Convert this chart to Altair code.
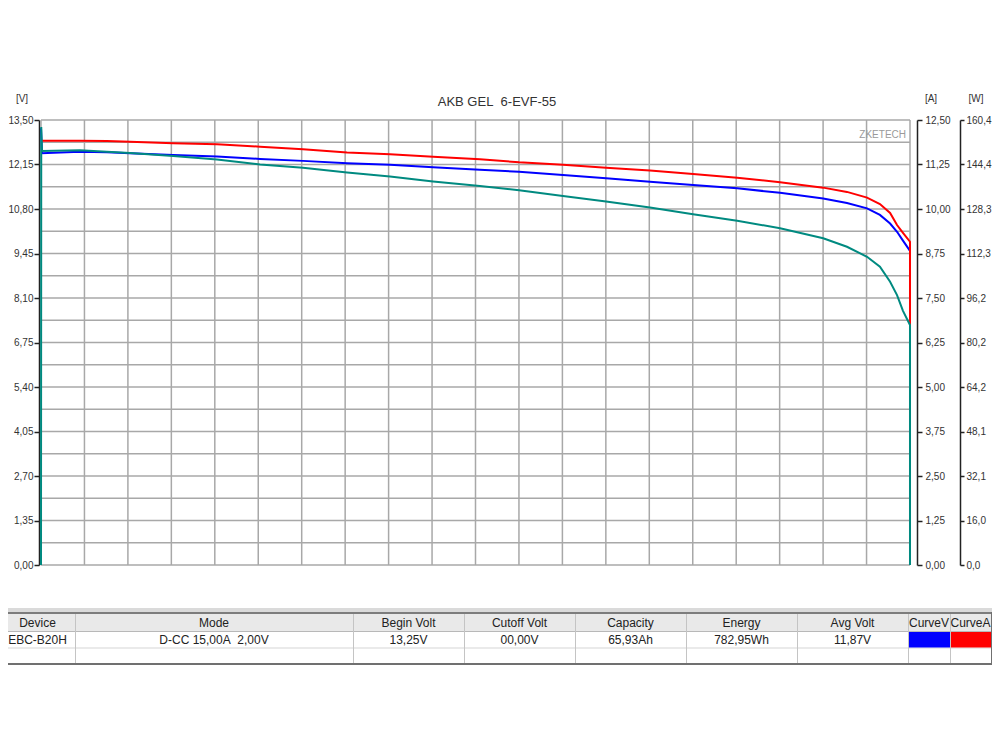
import altair as alt
import pandas as pd

# ---------------- data ----------------
TITLE = "AKB GEL\u00a0 6-EVF-55"
X_MAX = 350.633  # minutes (05:50:38)
XTICK_LABELS = ["00:00:00", "00:35:04", "01:10:08", "01:45:11", "02:20:15", "02:55:19",
                "03:30:23", "04:05:27", "04:40:30", "05:15:34", "05:50:38"]

# voltage (blue, V)
T_V = [0.0, 0.4, 15.7, 26.6, 35.9, 53.3, 71.0, 88.4, 105.7, 123.5, 140.8, 158.2, 177.1, 192.9,
       210.6, 228.0, 245.7, 263.1, 280.9, 298.2, 315.6, 325.2, 333.3, 338.5, 342.6, 345.4, 347.8, 350.63]
VOLT = [13.25, 12.49, 12.54, 12.52, 12.49, 12.44, 12.39, 12.32, 12.26, 12.19, 12.14, 12.07, 11.99, 11.93,
        11.83, 11.73, 11.63, 11.53, 11.43, 11.29, 11.12, 10.98, 10.82, 10.62, 10.36, 10.11, 9.84, 9.53]

# current (red, A)
T_A = [0.4, 15.7, 26.6, 35.9, 53.3, 71.0, 88.4, 105.7, 123.5, 140.8, 158.2, 177.1, 192.9,
       210.6, 228.0, 245.7, 263.1, 280.9, 298.2, 315.6, 325.2, 333.3, 338.5, 342.6, 345.4, 347.8, 350.63, 350.63]
AMP = [11.92, 11.92, 11.91, 11.89, 11.85, 11.82, 11.75, 11.68, 11.59, 11.54, 11.47, 11.40, 11.31,
       11.24, 11.16, 11.08, 10.98, 10.88, 10.75, 10.60, 10.48, 10.32, 10.14, 9.89, 9.55, 9.33, 9.08, 0.0]

# power (teal, W)
T_W = [0.0, 0.1, 0.4, 15.7, 26.6, 35.9, 53.3, 71.0, 88.4, 105.7, 123.5, 140.8, 158.2, 177.1, 192.9,
       210.6, 228.0, 245.7, 263.1, 280.9, 298.2, 315.6, 325.2, 333.3, 338.5, 342.6, 345.4, 347.8, 350.63, 350.63]
WATT = [0.0, 157.9, 149.2, 149.5, 149.0, 148.5, 147.4, 146.2, 144.4, 143.2, 141.5, 140.0, 138.2, 136.6, 135.1,
        133.0, 131.0, 128.9, 126.4, 124.1, 121.4, 117.8, 114.7, 111.1, 107.5, 102.1, 97.3, 91.6, 86.5, 0.0]

V_MAX, A_MAX, W_MAX = 13.5, 12.5, 160.4
TABLE_HEADERS = ["Device", "Mode", "Begin Volt", "Cutoff Volt", "Capacity", "Energy", "Avg Volt", "CurveV", "CurveA"]
TABLE_VALUES = ["EBC-B20H", "D-CC 15,00A\u00a0 2,00V", "13,25V", "00,00V", "65,93Ah", "782,95Wh", "11,87V", "", ""]
CURVE_COLORS = {"V": "#0000ff", "A": "#ff0000", "W": "#008a80"}

# ---------------- layout ----------------
W, H = 869, 445
PX0, PY0 = 41, 120  # page position of the plot origin
FONT = "Liberation Sans"
GRID_COLOR = "#a8a8a8"
AXIS_COLOR = "#222222"
LABEL_COLOR = "#333333"

v_ticks = [round(i * V_MAX / 10, 3) for i in range(11)]
a_ticks = [round(i * A_MAX / 10, 3) for i in range(11)]
w_ticks = [round(i * W_MAX / 10, 3) for i in range(11)]
x_ticks = [i * X_MAX / 10 for i in range(11)]
x_grid = [i * X_MAX / 20 for i in range(21)]
y_grid = [i * V_MAX / 20 for i in range(21)]

x_scale = alt.Scale(domain=[0, X_MAX], nice=False, zero=False)
lab_arr = "[" + ",".join("'%s'" % s for s in XTICK_LABELS) + "]"
x_label_expr = "%s[round(datum.value / %f)]" % (lab_arr, X_MAX / 10)


def comma_fmt(d):
    return "replace(format(datum.value, '.%df'), '.', ',')" % d


def axis(orient, values, digits, offset, tick=5, pad=3):
    return alt.Axis(orient=orient, values=values, labelExpr=comma_fmt(digits), title=None,
                    grid=False, offset=offset, tickSize=tick, tickWidth=1.5, tickColor=AXIS_COLOR,
                    domainColor=AXIS_COLOR, domainWidth=1.5, labelFont=FONT, labelFontSize=10,
                    labelColor=LABEL_COLOR, labelPadding=pad)


vgrid = alt.Chart(pd.DataFrame({"t": x_grid})).mark_rule(color=GRID_COLOR, strokeWidth=1.5).encode(
    x=alt.X("t:Q", scale=x_scale, axis=None))
hgrid = alt.Chart(pd.DataFrame({"g": y_grid})).mark_rule(color=GRID_COLOR, strokeWidth=1.5).encode(
    y=alt.Y("g:Q", scale=alt.Scale(domain=[0, V_MAX], nice=False), axis=None))

df_v = pd.DataFrame({"t": T_V, "v": VOLT, "i": range(len(T_V))})
df_a = pd.DataFrame({"t": T_A, "v": AMP, "i": range(len(T_A))})
df_w = pd.DataFrame({"t": T_W, "v": WATT, "i": range(len(T_W))})

x_axis = alt.Axis(values=x_ticks, labelExpr=x_label_expr, title=None, grid=False, offset=4,
                  tickSize=5, tickWidth=1.5, tickColor=AXIS_COLOR, domainColor=AXIS_COLOR,
                  domainWidth=1.5, labelFont=FONT, labelFontSize=10, labelColor=LABEL_COLOR,
                  labelPadding=7)

line_v = alt.Chart(df_v).mark_line(color=CURVE_COLORS["V"], strokeWidth=2).encode(
    x=alt.X("t:Q", scale=x_scale, axis=x_axis),
    y=alt.Y("v:Q", scale=alt.Scale(domain=[0, V_MAX], nice=False),
            axis=axis("left", v_ticks, 2, 2, tick=5, pad=1)),
    order="i:Q")
line_a = alt.Chart(df_a).mark_line(color=CURVE_COLORS["A"], strokeWidth=2).encode(
    x=alt.X("t:Q", scale=x_scale, axis=None),
    y=alt.Y("v:Q", scale=alt.Scale(domain=[0, A_MAX], nice=False),
            axis=axis("right", a_ticks, 2, 7)),
    order="i:Q")
line_w = alt.Chart(df_w).mark_line(color=CURVE_COLORS["W"], strokeWidth=2).encode(
    x=alt.X("t:Q", scale=x_scale, axis=None),
    y=alt.Y("v:Q", scale=alt.Scale(domain=[0, W_MAX], nice=False),
            axis=axis("right", w_ticks, 1, 50, tick=4, pad=2)),
    order="i:Q")

# ---------------- texts ----------------
texts = [
    (497, 102, TITLE, 13, "#333333"),
    (22, 99, "[V]", 10, LABEL_COLOR),
    (931, 99, "[A]", 10, LABEL_COLOR),
    (976, 99, "[W]", 10, LABEL_COLOR),
]
text_layers = []
for x, y, s, size, c in texts:
    text_layers.append(
        alt.Chart(pd.DataFrame({"s": [s]})).mark_text(
            font=FONT, fontSize=size, color=c, align="center", baseline="middle").encode(
            x=alt.value(x - PX0), y=alt.value(y - PY0), text="s:N"))

brand = alt.Chart(pd.DataFrame({"s": ["ZKETECH"]})).mark_text(
    font=FONT, fontSize=10, color="#9a9a9a", align="right", baseline="middle").encode(
    x=alt.value(906 - PX0), y=alt.value(135 - PY0), text="s:N")

# ---------------- table ----------------
RIGHT = 991
EDGES = [0, 75, 353, 464, 575, 686, 797, 908, 950, RIGHT]
rects = [
    (0, RIGHT + 2, 608, 612, "#dadada"),
    (0, RIGHT + 1, 612, 614, "#7c7c7c"),
    (0, RIGHT, 614, 631, "#e9e9e9"),
    (0, RIGHT, 631, 632, "#b8b8b8"),
    (0, RIGHT, 647.5, 648.5, "#d6d6d6"),
    (0, RIGHT + 2, 663, 665, "#707070"),
    (RIGHT, RIGHT + 2, 612, 665, "#707070"),
    (EDGES[7] + 1, EDGES[8], 632, 647.5, CURVE_COLORS["V"]),
    (EDGES[8] + 1, EDGES[9], 632, 647.5, CURVE_COLORS["A"]),
]
for e in EDGES[1:-1]:
    rects.append((e, e + 1, 614, 663, "#c4c4c4"))
df_rect = pd.DataFrame([{"x": a - PX0, "x2": b - PX0, "y": c - PY0, "y2": d - PY0, "c": col}
                        for a, b, c, d, col in rects])
table_rects = alt.Chart(df_rect).mark_rect().encode(
    x=alt.X("x:Q", scale=None), x2="x2:Q", y=alt.Y("y:Q", scale=None), y2="y2:Q",
    color=alt.Color("c:N", scale=None))

cells = []
for k in range(len(TABLE_HEADERS)):
    cx = (EDGES[k] + EDGES[k + 1]) / 2 - PX0
    cells.append({"x": cx, "y": 622.5 - PY0, "s": TABLE_HEADERS[k]})
    if TABLE_VALUES[k]:
        cells.append({"x": cx, "y": 640 - PY0, "s": TABLE_VALUES[k]})
table_text = alt.Chart(pd.DataFrame(cells)).mark_text(
    font=FONT, fontSize=12, color="#222222", align="center", baseline="middle").encode(
    x=alt.X("x:Q", scale=None), y=alt.Y("y:Q", scale=None), text="s:N")

chart = alt.layer(
    vgrid, hgrid, table_rects, table_text, line_v, line_a, line_w, brand, *text_layers
).resolve_scale(y="independent").properties(
    width=W, height=H,
    padding={"left": 33, "top": 112, "right": 82, "bottom": 110},
    autosize=alt.AutoSizeParams(type="none"),
    background="white",
).configure_view(stroke=None)

chart.save("out.html", embed_options={"renderer": "svg", "actions": False})
